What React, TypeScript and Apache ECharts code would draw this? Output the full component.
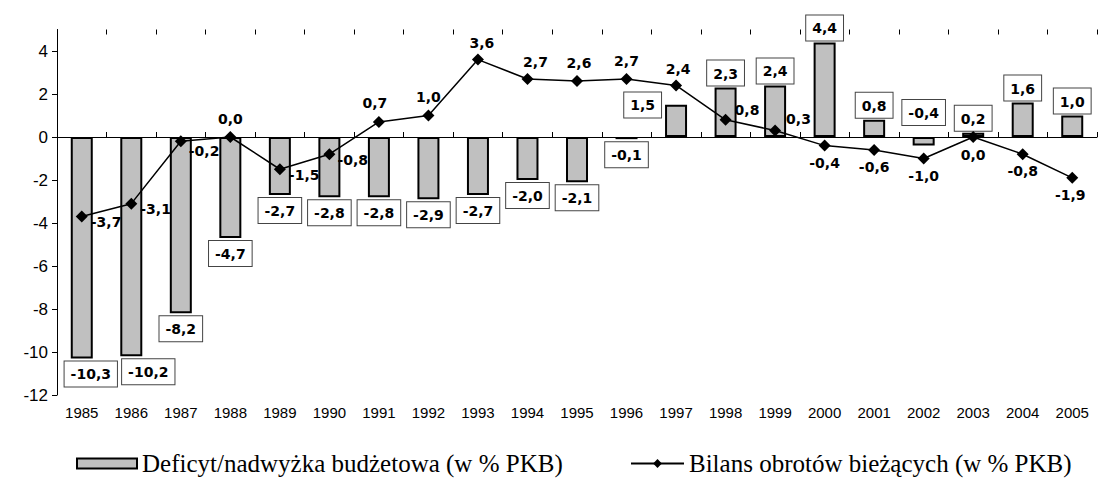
import React, { useEffect, useRef } from "react";
import * as echarts from "echarts";

const years = ["1985","1986","1987","1988","1989","1990","1991","1992","1993","1994","1995","1996","1997","1998","1999","2000","2001","2002","2003","2004","2005"];
const budget = [-10.3,-10.2,-8.2,-4.7,-2.7,-2.8,-2.8,-2.9,-2.7,-2.0,-2.1,-0.1,1.5,2.3,2.4,4.4,0.8,-0.4,0.2,1.6,1.0];
const current = [-3.7,-3.1,-0.2,0.0,-1.5,-0.8,0.7,1.0,3.6,2.7,2.6,2.7,2.4,0.8,0.3,-0.4,-0.6,-1.0,0.0,-0.8,-1.9];
const yTicks = [-12,-10,-8,-6,-4,-2,0,2,4];
const budgetName = "Deficyt/nadwyżka budżetowa (w % PKB)";
const currentName = "Bilans obrotów bieżących (w % PKB)";

const fmt = (v: number) => v.toFixed(1).replace(".", ",");

export default function App() {
  const ref = useRef<HTMLDivElement>(null);
  useEffect(() => {
    if (!ref.current) return;
    const chart = echarts.init(ref.current, null, { renderer: "svg" });

    const barLabelBase = {
      show: true,
      formatter: (p: any) => fmt(p.value),
      fontFamily: "DejaVu Sans",
      fontWeight: "bold",
      fontSize: 14,
      color: "#000",
      backgroundColor: "#fff",
      borderColor: "#444",
      borderWidth: 1,
      padding: [6, 6, 5, 6],
    };
    const barData = budget.map((v, i) => {
      let label: any = { position: v >= 0 ? "top" : "bottom", distance: v >= 0 ? 2 : 3 };
      if (i === 0) label = { ...label, offset: [9, 0] };
      if (i === 1) label = { ...label, offset: [17, 0] };
      if (i === 12) label = { position: "left", distance: 4, offset: [0, -16] };
      if (i === 17) label = { position: "top", distance: 12 };
      return { value: v, label };
    });

    const linePlacement: any[] = [
      { position: "right", distance: 3, offset: [0, 5] },
      { position: "right", distance: 3, offset: [0, 5] },
      { position: "right", distance: 2, offset: [0, 10] },
      { position: "top", distance: 5 },
      { position: "right", distance: 3, offset: [0, 6] },
      { position: "right", distance: 2, offset: [0, 6] },
      { position: "top", distance: 6, offset: [-4, 0] },
      { position: "top", distance: 6 },
      { position: "top", distance: 4, offset: [4, 0] },
      { position: "top", distance: 4, offset: [8, 0] },
      { position: "top", distance: 5, offset: [2, 0] },
      { position: "top", distance: 5 },
      { position: "top", distance: 3, offset: [2, 0] },
      { position: "right", distance: 3, offset: [0, -10] },
      { position: "right", distance: 5, offset: [0, -12] },
      { position: "bottom", distance: 4 },
      { position: "bottom", distance: 4 },
      { position: "bottom", distance: 4 },
      { position: "bottom", distance: 5 },
      { position: "bottom", distance: 4 },
      { position: "bottom", distance: 4, offset: [-2, 0] },
    ];
    const lineData = current.map((v, i) => ({ value: v, label: linePlacement[i] }));

    const catBase = { type: "category", data: years, boundaryGap: true, gridIndex: 0 };
    const legendText = { fontFamily: "Liberation Serif", fontSize: 25, color: "#000" };

    chart.setOption({
      animation: false,
      backgroundColor: "#fff",
      grid: { left: 57, right: 6, top: 29.5, bottom: 83, containLabel: false },
      legend: [
        {
          data: [budgetName],
          left: 76,
          top: 451,
          padding: 0,
          itemWidth: 60,
          itemHeight: 10,
          icon: "rect",
          textStyle: legendText,
          selectedMode: false,
        },
        {
          data: [currentName],
          left: 630,
          top: 451,
          padding: 0,
          itemWidth: 53,
          itemHeight: 11,
          textStyle: legendText,
          selectedMode: false,
        },
      ],
      xAxis: [
        {
          ...catBase,
          position: "bottom",
          axisLine: { show: false, onZero: false },
          axisTick: { show: false },
          axisLabel: { fontFamily: "Liberation Sans", fontSize: 15, color: "#000", margin: 10, interval: 0 },
        },
        {
          ...catBase,
          axisLine: { show: true, onZero: true, lineStyle: { color: "#000", width: 1 } },
          axisTick: { show: true, length: 5, inside: false, lineStyle: { color: "#000" } },
          axisLabel: { show: false },
        },
        {
          ...catBase,
          axisLine: { show: false, onZero: true },
          axisTick: { show: true, length: 5, inside: true, lineStyle: { color: "#000" } },
          axisLabel: { show: false },
        },
      ],
      yAxis: {
        type: "value",
        min: -12,
        max: 5,
        interval: 2,
        splitLine: { show: false },
        axisLine: { show: true, lineStyle: { color: "#000", width: 1 } },
        axisTick: { show: true, length: 5, lineStyle: { color: "#000" }, customValues: yTicks },
        axisLabel: { fontFamily: "Liberation Sans", fontSize: 17, color: "#000", margin: 9, customValues: yTicks },
      },
      series: [
        {
          name: budgetName,
          type: "bar",
          xAxisIndex: 0,
          barWidth: 22,
          itemStyle: { color: "#c0c0c0", borderColor: "#000", borderWidth: 2 },
          label: barLabelBase,
          data: barData,
          z: 2,
        },
        {
          name: currentName,
          type: "line",
          xAxisIndex: 0,
          symbol: "diamond",
          symbolSize: 12,
          itemStyle: { color: "#000" },
          lineStyle: { color: "#000", width: 1.5 },
          label: {
            show: true,
            formatter: (p: any) => fmt(p.value),
            fontFamily: "DejaVu Sans",
            fontWeight: "bold",
            fontSize: 14,
            color: "#000",
          },
          data: lineData,
          z: 3,
        },
      ],
    });
    return () => chart.dispose();
  }, []);
  return <div ref={ref} style={{ position: "fixed", left: 0, top: 0, width: 1103, height: 478 }} />;
}
